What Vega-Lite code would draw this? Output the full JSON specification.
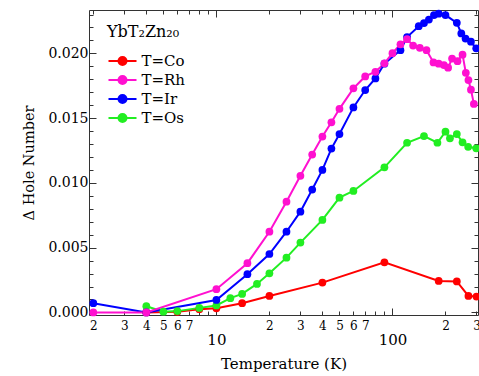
{
  "$schema": "https://vega.github.io/schema/vega-lite/v6.json",
  "width": 389,
  "height": 305,
  "autosize": "none",
  "padding": {"left": 89, "top": 10, "right": 1, "bottom": 61},
  "background": "white",
  "config": {
    "view": {"stroke": "#333333", "strokeWidth": 1},
    "axis": {"domain": false, "grid": false, "tickColor": "#333333", "tickWidth": 1, "labelColor": "black", "labelFont": "DejaVu Serif", "titleFont": "DejaVu Serif", "titleFontWeight": "normal", "titleColor": "black"}
  },
  "data": {"values": [
    {"s": "T=Co", "t": 4, "v": 0.0},
    {"s": "T=Co", "t": 6, "v": 0.00005},
    {"s": "T=Co", "t": 8, "v": 0.00025},
    {"s": "T=Co", "t": 10, "v": 0.00032},
    {"s": "T=Co", "t": 14, "v": 0.00071},
    {"s": "T=Co", "t": 20, "v": 0.00127},
    {"s": "T=Co", "t": 40, "v": 0.0023},
    {"s": "T=Co", "t": 90, "v": 0.00387},
    {"s": "T=Co", "t": 183, "v": 0.00243},
    {"s": "T=Co", "t": 232, "v": 0.00239},
    {"s": "T=Co", "t": 270, "v": 0.00127},
    {"s": "T=Co", "t": 300, "v": 0.00122},
    {"s": "T=Os", "t": 4, "v": 0.00048},
    {"s": "T=Os", "t": 5, "v": 0.00006},
    {"s": "T=Os", "t": 6, "v": 0.0001},
    {"s": "T=Os", "t": 8, "v": 0.00035},
    {"s": "T=Os", "t": 10, "v": 0.00054},
    {"s": "T=Os", "t": 12, "v": 0.0011},
    {"s": "T=Os", "t": 14, "v": 0.00143},
    {"s": "T=Os", "t": 17, "v": 0.0022},
    {"s": "T=Os", "t": 20, "v": 0.00302},
    {"s": "T=Os", "t": 25, "v": 0.00423},
    {"s": "T=Os", "t": 30, "v": 0.00539},
    {"s": "T=Os", "t": 40, "v": 0.00714},
    {"s": "T=Os", "t": 50, "v": 0.00886},
    {"s": "T=Os", "t": 60, "v": 0.00938},
    {"s": "T=Os", "t": 90, "v": 0.0112},
    {"s": "T=Os", "t": 121, "v": 0.0131},
    {"s": "T=Os", "t": 151, "v": 0.01362},
    {"s": "T=Os", "t": 180, "v": 0.0131},
    {"s": "T=Os", "t": 200, "v": 0.01395},
    {"s": "T=Os", "t": 212, "v": 0.01344},
    {"s": "T=Os", "t": 232, "v": 0.01377},
    {"s": "T=Os", "t": 250, "v": 0.01313},
    {"s": "T=Os", "t": 269, "v": 0.01279},
    {"s": "T=Os", "t": 299, "v": 0.01267},
    {"s": "T=Ir", "t": 2, "v": 0.00071},
    {"s": "T=Ir", "t": 4, "v": 0.0},
    {"s": "T=Ir", "t": 10, "v": 0.00096},
    {"s": "T=Ir", "t": 15, "v": 0.00295},
    {"s": "T=Ir", "t": 20, "v": 0.00451},
    {"s": "T=Ir", "t": 25, "v": 0.00623},
    {"s": "T=Ir", "t": 30, "v": 0.00778},
    {"s": "T=Ir", "t": 35, "v": 0.00949},
    {"s": "T=Ir", "t": 40, "v": 0.011},
    {"s": "T=Ir", "t": 45, "v": 0.01265},
    {"s": "T=Ir", "t": 50, "v": 0.01377},
    {"s": "T=Ir", "t": 60, "v": 0.01583},
    {"s": "T=Ir", "t": 70, "v": 0.01717},
    {"s": "T=Ir", "t": 80, "v": 0.01807},
    {"s": "T=Ir", "t": 90, "v": 0.0192},
    {"s": "T=Ir", "t": 111, "v": 0.02025},
    {"s": "T=Ir", "t": 121, "v": 0.02126},
    {"s": "T=Ir", "t": 141, "v": 0.0221},
    {"s": "T=Ir", "t": 151, "v": 0.02234},
    {"s": "T=Ir", "t": 161, "v": 0.02261},
    {"s": "T=Ir", "t": 172, "v": 0.02296},
    {"s": "T=Ir", "t": 183, "v": 0.02307},
    {"s": "T=Ir", "t": 200, "v": 0.02296},
    {"s": "T=Ir", "t": 232, "v": 0.02236},
    {"s": "T=Ir", "t": 246, "v": 0.02154},
    {"s": "T=Ir", "t": 260, "v": 0.02114},
    {"s": "T=Ir", "t": 279, "v": 0.0209},
    {"s": "T=Ir", "t": 299, "v": 0.02039},
    {"s": "T=Rh", "t": 2, "v": 0.0},
    {"s": "T=Rh", "t": 4, "v": 0.0},
    {"s": "T=Rh", "t": 10, "v": 0.00179},
    {"s": "T=Rh", "t": 15, "v": 0.0038},
    {"s": "T=Rh", "t": 20, "v": 0.00623},
    {"s": "T=Rh", "t": 25, "v": 0.00855},
    {"s": "T=Rh", "t": 30, "v": 0.01055},
    {"s": "T=Rh", "t": 35, "v": 0.01219},
    {"s": "T=Rh", "t": 40, "v": 0.01358},
    {"s": "T=Rh", "t": 45, "v": 0.01468},
    {"s": "T=Rh", "t": 50, "v": 0.01572},
    {"s": "T=Rh", "t": 60, "v": 0.0173},
    {"s": "T=Rh", "t": 70, "v": 0.01822},
    {"s": "T=Rh", "t": 80, "v": 0.01858},
    {"s": "T=Rh", "t": 90, "v": 0.01923},
    {"s": "T=Rh", "t": 100, "v": 0.02002},
    {"s": "T=Rh", "t": 111, "v": 0.0207},
    {"s": "T=Rh", "t": 121, "v": 0.0211},
    {"s": "T=Rh", "t": 131, "v": 0.0206},
    {"s": "T=Rh", "t": 143, "v": 0.02043},
    {"s": "T=Rh", "t": 156, "v": 0.02025},
    {"s": "T=Rh", "t": 171, "v": 0.0193},
    {"s": "T=Rh", "t": 183, "v": 0.0192},
    {"s": "T=Rh", "t": 196, "v": 0.0191},
    {"s": "T=Rh", "t": 207, "v": 0.0189},
    {"s": "T=Rh", "t": 218, "v": 0.0196},
    {"s": "T=Rh", "t": 234, "v": 0.0194},
    {"s": "T=Rh", "t": 250, "v": 0.0199},
    {"s": "T=Rh", "t": 261, "v": 0.0185},
    {"s": "T=Rh", "t": 270, "v": 0.01794},
    {"s": "T=Rh", "t": 279, "v": 0.0172},
    {"s": "T=Rh", "t": 290, "v": 0.0161}
  ]},
  "resolve": {"axis": {"x": "independent", "y": "independent"}},
  "layer": [
    {
      "mark": {"type": "line", "strokeWidth": 2, "point": {"filled": true, "size": 60}},
      "encoding": {
        "x": {"field": "t", "type": "quantitative",
          "scale": {"type": "log", "domain": [1.89, 306], "nice": false},
          "axis": {"orient": "bottom", "values": [2,3,4,5,6,7,8,9,20,30,40,50,60,70,80,90,200,300], "format": "d",
            "labelExpr": "indexof(['8','9','80','90'], datum.label) >= 0 ? '' : substring(datum.label, 0, 1)",
            "tickSize": -4, "labelPadding": 9, "labelFont": "DejaVu Serif", "labelFontSize": 12, "labelFlush": false, "labelOverlap": false,
            "title": "Temperature (K)", "titleFont": "DejaVu Serif", "titleFontSize": 15, "titlePadding": 25}},
        "y": {"field": "v", "type": "quantitative",
          "scale": {"domain": [-0.0002, 0.02335], "nice": false, "zero": false},
          "axis": {"orient": "left", "values": [0, 0.005, 0.01, 0.015, 0.02], "format": ".3f",
            "tickSize": -7, "labelPadding": 8, "labelFont": "DejaVu Serif", "labelFontSize": 14, "labelFlush": false, "labelOverlap": false,
            "title": "Δ Hole Number", "titleFont": "DejaVu Serif", "titleFontSize": 14.5, "titlePadding": 11}},
        "color": {"field": "s", "type": "nominal",
          "scale": {"domain": ["T=Co", "T=Rh", "T=Ir", "T=Os"], "range": ["#ff0000", "#ff10d0", "#0000ff", "#22ee22"]},
          "legend": {"orient": "none", "legendX": 18, "legendY": 14,
            "title": "YbT₂Zn₂₀", "titleFont": "DejaVu Serif", "titleFontSize": 16, "titleFontWeight": "normal", "titleColor": "black", "titlePadding": 13,
            "labelFont": "DejaVu Serif", "labelFontSize": 15, "labelColor": "black",
            "symbolType": "M-2,0L2,0M-0.57,0A0.57,0.57,0,1,0,0.57,0A0.57,0.57,0,1,0,-0.57,0Z",
            "symbolSize": 196, "symbolStrokeWidth": 2, "symbolOffset": 7.5, "labelOffset": 11, "rowPadding": 3,
            "encode": {"symbols": {"update": {"fill": {"scale": "color", "field": "value"}, "stroke": {"scale": "color", "field": "value"}, "opacity": {"value": 1}}}}}}
      }
    },
    {
      "mark": {"type": "point", "opacity": 0},
      "encoding": {
        "x": {"field": "t", "type": "quantitative", "scale": {"type": "log", "domain": [1.89, 306], "nice": false},
          "axis": {"orient": "bottom", "values": [10, 100], "format": "d", "tickSize": -7, "labelPadding": 24, "labelFont": "DejaVu Serif", "labelFontSize": 15, "labelFlush": false, "title": null}},
        "y": {"field": "v", "type": "quantitative", "scale": {"domain": [-0.0002, 0.02335], "nice": false, "zero": false},
          "axis": {"orient": "left", "values": [0.001,0.002,0.003,0.004,0.006,0.007,0.008,0.009,0.011,0.012,0.013,0.014,0.016,0.017,0.018,0.019,0.021,0.022,0.023], "tickSize": -4, "labels": false, "title": null}}
      }
    },
    {
      "mark": {"type": "point", "opacity": 0},
      "encoding": {
        "x": {"field": "t", "type": "quantitative", "scale": {"type": "log", "domain": [1.89, 306], "nice": false},
          "axis": {"orient": "top", "values": [2,3,4,5,6,7,8,9,20,30,40,50,60,70,80,90,200,300], "tickSize": -4, "labels": false, "title": null}},
        "y": {"field": "v", "type": "quantitative", "scale": {"domain": [-0.0002, 0.02335], "nice": false, "zero": false},
          "axis": {"orient": "right", "values": [0, 0.005, 0.01, 0.015, 0.02], "tickSize": -7, "labels": false, "title": null}}
      }
    },
    {
      "mark": {"type": "point", "opacity": 0},
      "encoding": {
        "x": {"field": "t", "type": "quantitative", "scale": {"type": "log", "domain": [1.89, 306], "nice": false},
          "axis": {"orient": "top", "values": [10, 100], "tickSize": -7, "labels": false, "title": null}},
        "y": {"field": "v", "type": "quantitative", "scale": {"domain": [-0.0002, 0.02335], "nice": false, "zero": false},
          "axis": {"orient": "right", "values": [0.001,0.002,0.003,0.004,0.006,0.007,0.008,0.009,0.011,0.012,0.013,0.014,0.016,0.017,0.018,0.019,0.021,0.022,0.023], "tickSize": -4, "labels": false, "title": null}}
      }
    }
  ]
}
